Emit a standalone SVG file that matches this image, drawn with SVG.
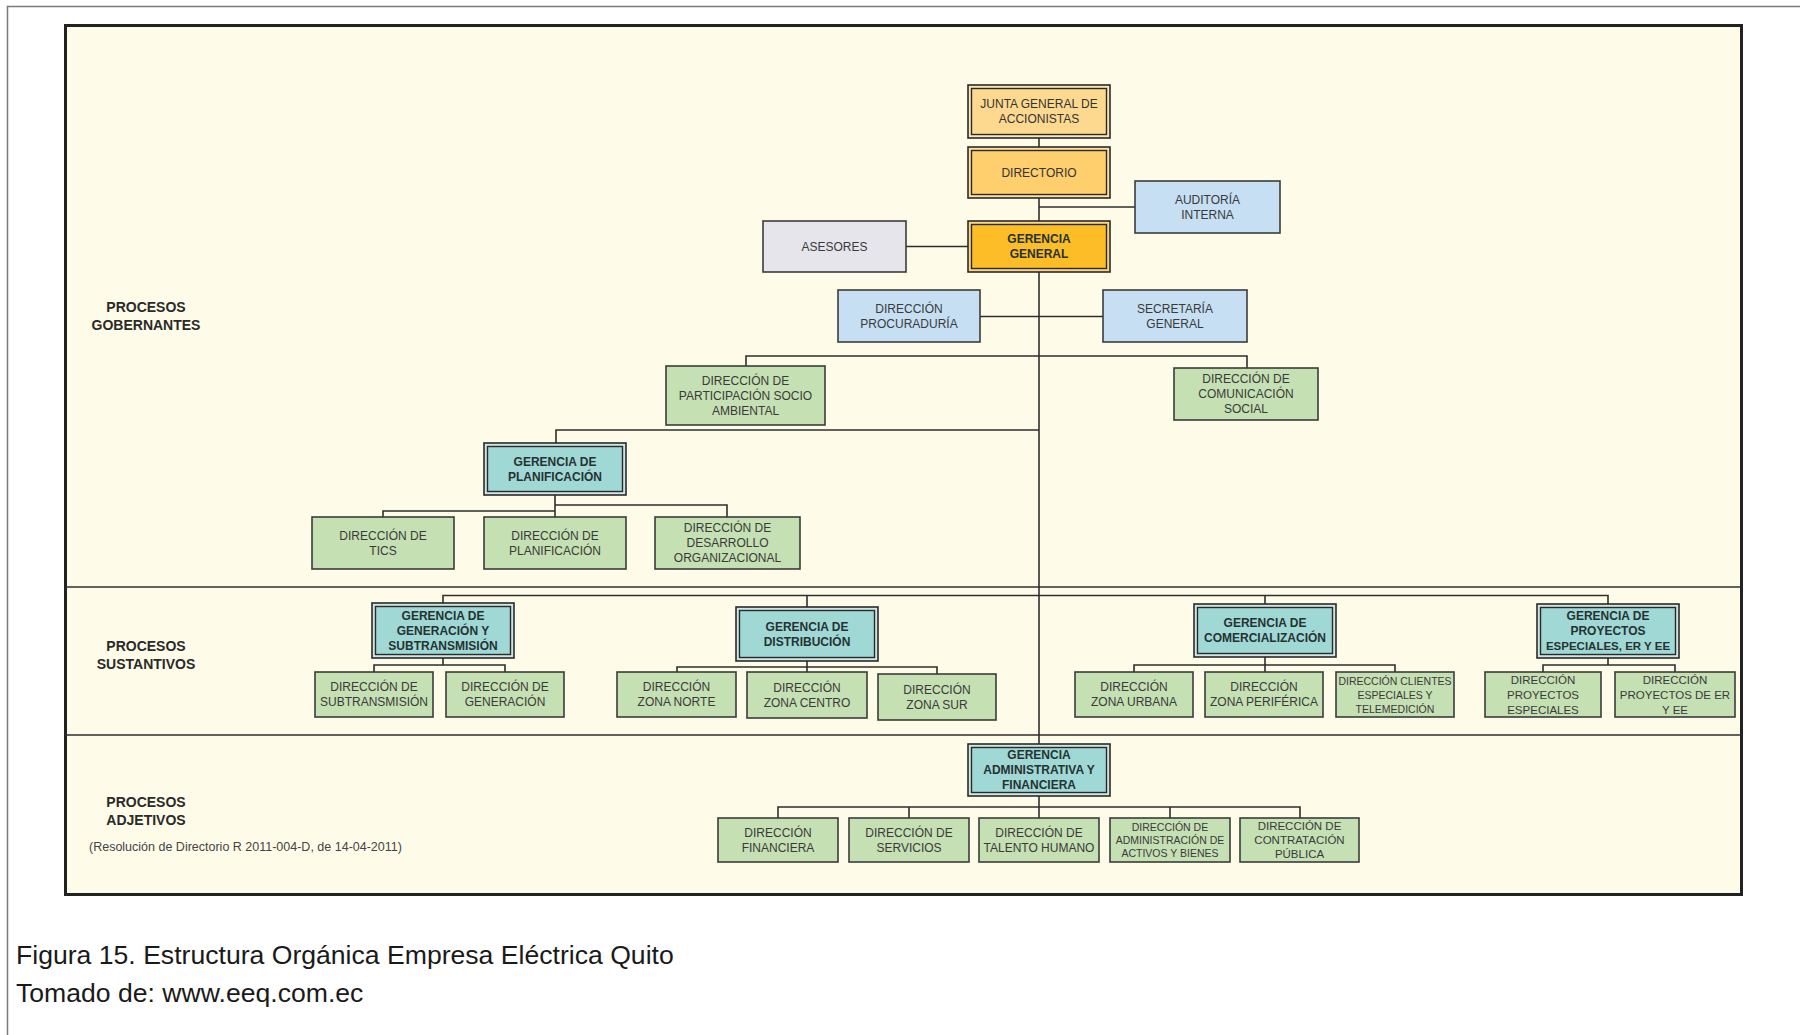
<svg xmlns="http://www.w3.org/2000/svg" width="1800" height="1035" viewBox="0 0 1800 1035">
<style>
text{font-family:"Liberation Sans",Arial,sans-serif;text-anchor:middle}
.d{font-size:12px;fill:#3a3a3a}
.ds{font-size:10.5px;fill:#3a3a3a}
.g{font-size:12px;font-weight:bold;fill:#263232}
.lbl{font-size:14px;font-weight:bold;fill:#2a2a2a}
.cap{font-size:26.6px;fill:#1a1a1a;text-anchor:start}
.ln{stroke:#2e2e2e;stroke-width:1.6;fill:none}
.grn{fill:#c5e0b3;stroke:#3b3b3b;stroke-width:1.6}
.blu{fill:#c6dff2;stroke:#3b3b3b;stroke-width:1.6}
.gry{fill:#e6e5eb;stroke:#3b3b3b;stroke-width:1.6}
.out{stroke:#2a2a2a;stroke-width:1.6}
.inn{stroke:#2a2a2a;stroke-width:1.4}
.teal{fill:#a0d8d5}
.tealo{fill:#cfe6e4}
</style>
<rect width="1800" height="1035" fill="#ffffff"/>
<path d="M7.5 1035 V6.5 H1800" fill="none" stroke="#7a7a7a" stroke-width="1.5"/>
<rect x="65.5" y="25.5" width="1676" height="869" fill="#fefce8" stroke="#222" stroke-width="3"/>
<g id="dividers">
<line x1="65" y1="587" x2="1742" y2="587" class="ln"/>
<line x1="65" y1="735" x2="1742" y2="735" class="ln"/>
</g>
<g id="labels">
<text class="lbl" x="146" y="312">PROCESOS</text>
<text class="lbl" x="146" y="330">GOBERNANTES</text>
<text class="lbl" x="146" y="651">PROCESOS</text>
<text class="lbl" x="146" y="669">SUSTANTIVOS</text>
<text class="lbl" x="146" y="807">PROCESOS</text>
<text class="lbl" x="146" y="825">ADJETIVOS</text>
<text x="89" y="851" style="font-size:12.5px;fill:#444;text-anchor:start">(Resolución de Directorio R 2011-004-D, de 14-04-2011)</text>
</g>
<g id="connectors">
<line x1="1039" y1="100" x2="1039" y2="770" class="ln"/>
<line x1="1039" y1="207" x2="1135" y2="207" class="ln"/>
<line x1="906" y1="246.5" x2="968" y2="246.5" class="ln"/>
<line x1="980" y1="316.5" x2="1103" y2="316.5" class="ln"/>
<path d="M746 366 V356 H1247 V368" class="ln"/>
<path d="M556 443 V430 H1039" class="ln"/>
<path d="M555 495 V517 M383 517 V511 H555 M555 505 H727 V517" class="ln"/>
<path d="M443 603 V595.5 H1608 V604 M807 595.5 V607 M1265 595.5 V604" class="ln"/>
<path d="M443 658 V665 M374 672 V665 H505 V672" class="ln"/>
<path d="M807 661 V672 M677 672 V667 H937 V674" class="ln"/>
<path d="M1265 657 V672 M1134 672 V665 H1395 V672" class="ln"/>
<path d="M1608 658 V665 M1543 672 V665 H1675 V672" class="ln"/>
<path d="M1039 796 V818 M778 818 V807 H1300 V818 M909 807 V818 M1170 807 V818" class="ln"/>
</g>
<g id="n-junta">
<rect x="968" y="85" width="142" height="53" class="out" fill="#fde7b8"/>
<rect x="971.5" y="88.5" width="135" height="46" class="inn" fill="#fdd98f"/>
<text class="d" x="1039" y="108.3" style="fill:#333">JUNTA GENERAL DE</text>
<text class="d" x="1039" y="123.3" style="fill:#333">ACCIONISTAS</text>
</g>
<g id="n-directorio">
<rect x="968" y="147" width="142" height="51" class="out" fill="#fee0a0"/>
<rect x="971.5" y="150.5" width="135" height="44" class="inn" fill="#fecf6c"/>
<text class="d" x="1039" y="176.8" style="fill:#333">DIRECTORIO</text>
</g>
<g id="n-auditoria">
<rect x="1135" y="181" width="145" height="52" class="blu"/>
<text class="d" x="1207.5" y="203.8">AUDITORÍA</text>
<text class="d" x="1207.5" y="218.8">INTERNA</text>
</g>
<g id="n-asesores">
<rect x="763" y="221" width="143" height="51" class="gry"/>
<text class="d" x="834.5" y="250.8">ASESORES</text>
</g>
<g id="n-gerencia-general">
<rect x="968" y="221" width="142" height="51" class="out" fill="#fdd681"/>
<rect x="971.5" y="224.5" width="135" height="44" class="inn" fill="#fcbd26"/>
<text class="g" x="1039" y="243.3">GERENCIA</text>
<text class="g" x="1039" y="258.3">GENERAL</text>
</g>
<g id="n-procuraduria">
<rect x="838" y="290" width="142" height="52" class="blu"/>
<text class="d" x="909" y="312.8">DIRECCIÓN</text>
<text class="d" x="909" y="327.8">PROCURADURÍA</text>
</g>
<g id="n-secretaria">
<rect x="1103" y="290" width="144" height="52" class="blu"/>
<text class="d" x="1175" y="312.8">SECRETARÍA</text>
<text class="d" x="1175" y="327.8">GENERAL</text>
</g>
<g id="n-participacion">
<rect x="666" y="366" width="159" height="59" class="grn"/>
<text class="d" x="745.5" y="384.8">DIRECCIÓN DE</text>
<text class="d" x="745.5" y="399.8">PARTICIPACIÓN SOCIO</text>
<text class="d" x="745.5" y="414.8">AMBIENTAL</text>
</g>
<g id="n-comunicacion">
<rect x="1174" y="368" width="144" height="52" class="grn"/>
<text class="d" x="1246" y="383.3">DIRECCIÓN DE</text>
<text class="d" x="1246" y="398.3">COMUNICACIÓN</text>
<text class="d" x="1246" y="413.3">SOCIAL</text>
</g>
<g id="n-ger-planificacion">
<rect x="484" y="443" width="142" height="52" class="out tealo"/>
<rect x="487.5" y="446.5" width="135" height="45" class="inn teal"/>
<text class="g" x="555" y="465.8">GERENCIA DE</text>
<text class="g" x="555" y="480.8">PLANIFICACIÓN</text>
</g>
<g id="n-tics">
<rect x="312" y="517" width="142" height="52" class="grn"/>
<text class="d" x="383" y="539.8">DIRECCIÓN DE</text>
<text class="d" x="383" y="554.8">TICS</text>
</g>
<g id="n-dir-planificacion">
<rect x="484" y="517" width="142" height="52" class="grn"/>
<text class="d" x="555" y="539.8">DIRECCIÓN DE</text>
<text class="d" x="555" y="554.8">PLANIFICACIÓN</text>
</g>
<g id="n-desarrollo">
<rect x="655" y="517" width="145" height="52" class="grn"/>
<text class="d" x="727.5" y="532.3">DIRECCIÓN DE</text>
<text class="d" x="727.5" y="547.3">DESARROLLO</text>
<text class="d" x="727.5" y="562.3">ORGANIZACIONAL</text>
</g>
<g id="n-ger-generacion">
<rect x="372" y="603" width="142" height="55" class="out tealo"/>
<rect x="375.5" y="606.5" width="135" height="48" class="inn teal"/>
<text class="g" x="443" y="619.8">GERENCIA DE</text>
<text class="g" x="443" y="634.8">GENERACIÓN Y</text>
<text class="g" x="443" y="649.8">SUBTRANSMISIÓN</text>
</g>
<g id="n-ger-distribucion">
<rect x="736" y="607" width="142" height="54" class="out tealo"/>
<rect x="739.5" y="610.5" width="135" height="47" class="inn teal"/>
<text class="g" x="807" y="630.8">GERENCIA DE</text>
<text class="g" x="807" y="645.8">DISTRIBUCIÓN</text>
</g>
<g id="n-ger-comercializacion">
<rect x="1194" y="604" width="142" height="53" class="out tealo"/>
<rect x="1197.5" y="607.5" width="135" height="46" class="inn teal"/>
<text class="g" x="1265" y="627.3">GERENCIA DE</text>
<text class="g" x="1265" y="642.3">COMERCIALIZACIÓN</text>
</g>
<g id="n-ger-proyectos">
<rect x="1537" y="604" width="142" height="54" class="out tealo"/>
<rect x="1540.5" y="607.5" width="135" height="47" class="inn teal"/>
<text class="g" x="1608" y="620.3">GERENCIA DE</text>
<text class="g" x="1608" y="635.3">PROYECTOS</text>
<text class="g" x="1608" y="650.3" style="font-size:11.5px">ESPECIALES, ER Y EE</text>
</g>
<g id="n-subtransmision">
<rect x="315" y="672" width="118" height="45" class="grn"/>
<text class="d" x="374" y="691.3">DIRECCIÓN DE</text>
<text class="d" x="374" y="706.3">SUBTRANSMISIÓN</text>
</g>
<g id="n-generacion">
<rect x="446" y="672" width="118" height="45" class="grn"/>
<text class="d" x="505" y="691.3">DIRECCIÓN DE</text>
<text class="d" x="505" y="706.3">GENERACIÓN</text>
</g>
<g id="n-norte">
<rect x="617" y="672" width="119" height="45" class="grn"/>
<text class="d" x="676.5" y="691.3">DIRECCIÓN</text>
<text class="d" x="676.5" y="706.3">ZONA NORTE</text>
</g>
<g id="n-centro">
<rect x="747" y="672" width="120" height="46" class="grn"/>
<text class="d" x="807" y="691.8">DIRECCIÓN</text>
<text class="d" x="807" y="706.8">ZONA CENTRO</text>
</g>
<g id="n-sur">
<rect x="878" y="674" width="118" height="46" class="grn"/>
<text class="d" x="937" y="693.8">DIRECCIÓN</text>
<text class="d" x="937" y="708.8">ZONA SUR</text>
</g>
<g id="n-urbana">
<rect x="1075" y="672" width="118" height="45" class="grn"/>
<text class="d" x="1134" y="691.3">DIRECCIÓN</text>
<text class="d" x="1134" y="706.3">ZONA URBANA</text>
</g>
<g id="n-periferica">
<rect x="1205" y="672" width="118" height="45" class="grn"/>
<text class="d" x="1264" y="691.3">DIRECCIÓN</text>
<text class="d" x="1264" y="706.3">ZONA PERIFÉRICA</text>
</g>
<g id="n-clientes">
<rect x="1336" y="672" width="118" height="45" class="grn"/>
<text class="ds" x="1395" y="684.5">DIRECCIÓN CLIENTES</text>
<text class="ds" x="1395" y="698.5">ESPECIALES Y</text>
<text class="ds" x="1395" y="712.5">TELEMEDICIÓN</text>
</g>
<g id="n-proy-especiales">
<rect x="1485" y="672" width="116" height="45" class="grn"/>
<text class="d" x="1543" y="683.8" style="font-size:11.5px">DIRECCIÓN</text>
<text class="d" x="1543" y="698.8" style="font-size:11.5px">PROYECTOS</text>
<text class="d" x="1543" y="713.8" style="font-size:11.5px">ESPECIALES</text>
</g>
<g id="n-proy-er">
<rect x="1615" y="672" width="120" height="45" class="grn"/>
<text class="d" x="1675" y="683.8" style="font-size:11.5px">DIRECCIÓN</text>
<text class="d" x="1675" y="698.8" style="font-size:11.5px">PROYECTOS DE ER</text>
<text class="d" x="1675" y="713.8" style="font-size:11.5px">Y EE</text>
</g>
<g id="n-ger-administrativa">
<rect x="968" y="744" width="142" height="52" class="out tealo"/>
<rect x="971.5" y="747.5" width="135" height="45" class="inn teal"/>
<text class="g" x="1039" y="759.3">GERENCIA</text>
<text class="g" x="1039" y="774.3">ADMINISTRATIVA Y</text>
<text class="g" x="1039" y="789.3">FINANCIERA</text>
</g>
<g id="n-financiera">
<rect x="718" y="818" width="120" height="44" class="grn"/>
<text class="d" x="778" y="836.8">DIRECCIÓN</text>
<text class="d" x="778" y="851.8">FINANCIERA</text>
</g>
<g id="n-servicios">
<rect x="849" y="818" width="120" height="44" class="grn"/>
<text class="d" x="909" y="836.8">DIRECCIÓN DE</text>
<text class="d" x="909" y="851.8">SERVICIOS</text>
</g>
<g id="n-talento">
<rect x="979" y="818" width="120" height="44" class="grn"/>
<text class="d" x="1039" y="836.8">DIRECCIÓN DE</text>
<text class="d" x="1039" y="851.8">TALENTO HUMANO</text>
</g>
<g id="n-activos">
<rect x="1110" y="818" width="120" height="44" class="grn"/>
<text class="ds" x="1170" y="830.5">DIRECCIÓN DE</text>
<text class="ds" x="1170" y="843.5">ADMINISTRACIÓN DE</text>
<text class="ds" x="1170" y="856.5">ACTIVOS Y BIENES</text>
</g>
<g id="n-contratacion">
<rect x="1240" y="818" width="119" height="44" class="grn"/>
<text class="d" x="1299.5" y="830" style="font-size:11.5px">DIRECCIÓN DE</text>
<text class="d" x="1299.5" y="844" style="font-size:11.5px">CONTRATACIÓN</text>
<text class="d" x="1299.5" y="858" style="font-size:11.5px">PÚBLICA</text>
</g>
<g id="caption">
<text class="cap" x="16" y="964">Figura 15. Estructura Orgánica Empresa Eléctrica Quito</text>
<text class="cap" x="16" y="1002">Tomado de: www.eeq.com.ec</text>
</g>
</svg>
